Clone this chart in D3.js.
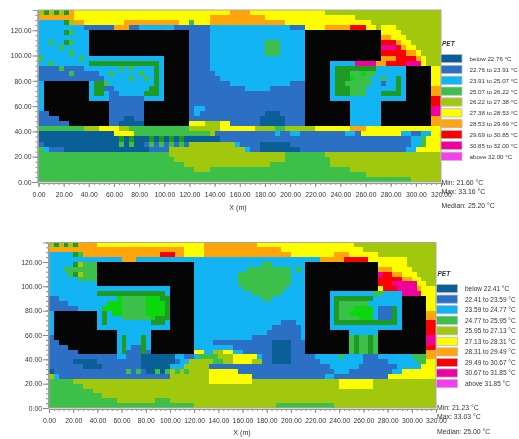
<!DOCTYPE html>
<html><head><meta charset="utf-8">
<style>
html,body{margin:0;padding:0;background:#fff;overflow:hidden}
svg{display:block;filter:blur(0.7px)}
text{font-family:"Liberation Sans",sans-serif;fill:#333}
</style>
<script src="https://cdn.jsdelivr.net/npm/d3@7/dist/d3.min.js"></script>
</head><body>
<svg id="c" width="519" height="439"></svg>
<script>
// Class codes: a-j = legend classes, k = building, l/m = vegetation
const classCodes = ["a","b","c","d","e","f","g","h","i","j","k","l","m"];
const classColors = ["#0a5f98","#2c70c6","#12b4f4","#3cc04a","#a2c80e","#fdfd00","#ffa50a","#fb0000","#f0009c","#f83cf0","#050505","#1f9a22","#0cd60c"];
const xTicks = [0,20,40,60,80,100,120,140,160,180,200,220,240,260,280,300,320];
const yTicks = [0,20,40,60,80,100,120];
const cellMetres = 4;
const gridCols = 80;
const gridExtentY = 136;

// Each row lists class + last column of its run, north to south
const topRows = [
"e6 g7 f38 g42 f57 e80",
"g7 f34 g45 f63 e80",
"c5 l6 e7 g9 f17 g28 f30 d31 f34 g49 f66 e80",
"c9 b15 g18 b20 c27 b34 c50 b53 f57 g62 h65 f67 e68 f71 e80",
"c10 k30 b34 c53 k68 f72 e80",
"c10 k30 b34 c53 k68 g70 f73 e80",
"c10 k30 b34 c45 d48 c53 k68 h71 g72 f74 e80",
"c10 k30 b34 c45 d48 c53 k68 i71 h72 g73 f75 e80",
"c10 k30 b34 c45 d48 c53 k68 h73 g75 f76 e80",
"c25 k30 b34 c53 k68 g71 h75 g76 f77 e80",
"c10 l24 c25 k30 b34 c53 k58 c63 i67 g69 h73 i76 f77 e80",
"b9 c23 l24 c25 k30 b34 c53 k58 c59 l67 c73 k78 f80",
"b12 c23 l24 c25 k30 b35 c53 k58 c59 l62 d67 c73 k78 f80",
"b13 c23 l24 c25 k30 b36 c53 k58 c59 l62 d66 c71 l72 c73 k78 f80",
"c1 k10 c11 l13 b14 c23 l24 c25 k30 b38 c50 b53 k58 c59 l62 d66 c71 l72 c73 k78 f80",
"c1 k10 c11 l13 b15 c22 l24 c25 k30 b41 c46 b53 k58 c59 l62 d65 c71 l72 c73 k78 g80",
"c1 k10 c11 l13 c14 b16 c21 l24 c25 k30 b53 k58 c59 l62 d65 c68 l72 c73 k78 g80",
"c1 k10 c14 b21 c25 k30 b53 k58 c73 k78 h80",
"c1 k14 b21 k30 b53 k62 c68 k78 h80",
"c1 k14 b21 k30 b31 c33 b53 k62 c68 k78 i80",
"b2 k14 b21 k30 b31 c32 b45 a48 b53 k62 c68 k78 i80",
"b4 k14 b17 a19 b21 k30 b44 a49 b53 k62 c68 k78 g80",
"b6 k14 b16 a21 k30 f33 e36 f38 b44 a49 b53 k62 c68 k78 g80",
"d9 e12 f16 e18 d30 e36 f43 e47 d49 e55 f62 g65 f80",
"a15 f19 d34 e35 b47 c48 b50 c52 b61 c63 b64 f72 c74 b76 c78 f80",
"a36 b74 c76 d77 f80",
"b1 a21 b30 e39 c40 b44 a50 b74 c76 d77 f80",
"d1 c2 b5 a22 b26 e41 c42 b44 a52 b73 c75 f80",
"d26 e49 d57 e80",
"d27 e49 d58 e80",
"d29 e46 d58 e80",
"d31 e34 d62 e80",
"d65 e80",
"d74 e80"
];
const bottomRows = [
"e6 g10 f32 g43 f63 e80",
"g28 f32 g48 f65 e80",
"c5 l6 d7 g23 h26 g28 f32 g50 f59 g62 f68 e80",
"c15 g18 c56 g61 h66 f74 e80",
"c5 d10 k30 c44 d46 c53 k68 f74 e80",
"c3 d10 k30 c41 d50 c51 d52 c53 k68 g71 f75 e80",
"c4 d10 k30 c39 d50 c53 k68 i69 h71 g73 f76 e80",
"c6 d10 k30 c39 d50 c53 k68 h73 g75 f77 e80",
"c10 k30 c39 d50 c53 k68 h71 i76 f78 e80",
"c25 k30 c40 d49 c53 k68 f69 h72 i76 g77 f80",
"c10 l24 c25 k30 c42 d48 c53 k58 c67 d69 c73 i77 f80",
"b2 c14 m15 d20 m23 l25 k30 c44 d46 c53 k58 c59 l67 c73 k78 f80",
"b4 c12 m15 d20 m24 l25 k30 c53 k58 c59 l60 d66 c73 k78 f80",
"b6 c11 m15 d20 m24 l25 k30 c53 k58 c59 l60 d63 m67 c68 b71 l72 c73 k78 f80",
"c1 k10 c11 l12 c13 m15 d20 m24 l25 k30 c53 k58 c59 l60 d62 m67 c68 b71 l72 c73 k78 g80",
"c1 k10 c11 l12 c15 d21 m22 l25 k30 c53 k58 c59 l60 d64 m67 c68 b71 l72 c73 k78 g80",
"c1 k10 c11 l12 c21 l24 c25 k30 c48 b51 c53 k58 c59 l72 c73 k78 h80",
"c1 k10 c25 k30 c46 b52 c53 k58 c73 k78 h80",
"c1 k14 c21 k30 c45 b52 c53 k62 c68 k78 h80",
"b1 k14 c15 l16 c19 l20 c21 k30 c42 b52 c53 k62 d63 l64 d66 l67 d68 k78 i80",
"b2 k14 c15 l16 c19 l20 c21 k30 c34 b46 a50 b53 k62 d63 l64 d66 l67 d68 k78 i80",
"b4 k14 c15 l16 c17 b19 l20 c21 k30 c38 b46 a50 b53 k62 d63 l64 d66 l67 d68 k78 h80",
"b6 k14 c15 l16 b19 l20 b21 k30 f32 c34 e36 f38 c40 b46 a50 b53 k62 d63 l64 d66 l67 d68 k78 g80",
"b14 c16 b19 a26 c28 b30 c31 d35 e38 f43 c44 b46 a50 b55 c60 d61 c65 b68 c75 d78 g80",
"b5 a10 b19 a26 b27 c29 e34 d36 e38 f42 e44 b46 a50 b56 c65 b70 c76 d78 f80",
"b7 a11 b19 a25 c28 e33 b58 c64 b72 c77 f80",
"a1 b20 a24 b25 e33 f39 b59 c62 b71 c73 f80",
"e1 c2 b25 e33 f42 b57 c59 b70 f80",
"d5 e33 f42 e60 f67 e80",
"d7 e60 f67 e80",
"d9 e80",
"d11 e80",
"d14 e22 d25 e80",
"d30 e47 d59 e80"
];
// Small tree cells: [column, row, class]
const topTrees = [[1,0,"l"],[3,0,"l"],[5,0,"l"],[5,2,"l"],[5,4,"l"],[6,4,"d"],[5,6,"l"],[6,6,"d"],[2,6,"d"],[4,7,"d"],[6,8,"d"],[0,9,"d"],[8,9,"d"],[2,10,"d"],[4,11,"d"],[6,12,"d"],[14,12,"d"],[16,11,"d"],[18,11,"d"],[20,12,"d"],[21,13,"d"],[18,13,"d"],[13,14,"d"],[16,25,"l"],[18,25,"l"],[22,25,"l"],[24,25,"l"],[26,25,"l"],[28,25,"l"],[16,26,"d"],[18,26,"d"],[22,26,"d"],[24,26,"d"],[26,26,"d"],[28,26,"d"],[62,13,"m"],[64,12,"m"],[66,12,"d"],[68,13,"d"],[61,14,"d"],[68,14,"b"]];
const bottomTrees = [[1,0,"l"],[3,0,"l"],[5,0,"l"],[5,4,"l"],[6,4,"e"],[5,6,"l"],[6,6,"e"],[16,26,"d"],[18,26,"d"],[22,26,"d"],[24,26,"d"],[26,26,"d"],[28,26,"d"]];

const topLegend = ["below 22.76 °C","22.76 to 23.91 °C","23.91 to 25.07 °C","25.07 to 26.22 °C","26.22 to 27.38 °C","27.38 to 28.53 °C","28.53 to 29.69 °C","29.69 to 30.85 °C","30.85 to 32.00 °C","above 32.00 °C"];
const bottomLegend = ["below 22.41 °C","22.41 to 23.59 °C","23.59 to 24.77 °C","24.77 to 25.95 °C","25.95 to 27.13 °C","27.13 to 28.31 °C","28.31 to 29.49 °C","29.49 to 30.67 °C","30.67 to 31.85 °C","above 31.85 °C"];
const topStats = ["Min: 21.60 °C","Max: 33.16 °C","Median: 25.20 °C"];
const bottomStats = ["Min: 21.23 °C","Max: 33.03 °C","Median: 25.00 °C"];

const color = d3.scaleOrdinal(classCodes, classColors);
const svg = d3.select("#c");

function expand(rows, trees){
  const cells = [];
  rows.forEach((row, r) => {
    let start = 0;
    row.split(" ").forEach(run => {
      const end = +run.slice(1);
      for (let c = start; c < end; c++) cells.push({c, r, v: run[0]});
      start = end;
    });
  });
  trees.forEach(([c, r, v]) => {
    const hit = cells.find(d => d.c === c && d.r === r);
    if (hit) hit.v = v;
  });
  return cells;
}

function panel(o){
  const x = d3.scaleLinear([0, gridCols * cellMetres], o.xRange);
  const y = d3.scaleLinear([0, gridExtentY], o.yRange);
  const g = svg.append("g");
  const cells = expand(o.rows, o.trees);
  g.append("g").attr("shape-rendering","crispEdges").selectAll("rect").data(cells).join("rect")
    .attr("x", d => x(d.c * cellMetres))
    .attr("y", d => y(gridExtentY - d.r * cellMetres))
    .attr("width", x(cellMetres) - x(0) + 0.4)
    .attr("height", y(0) - y(cellMetres) + 0.4)
    .attr("fill", d => color(d.v));
  g.append("rect").attr("x",o.xRange[0]).attr("y",o.yRange[1])
    .attr("width",o.xRange[1]-o.xRange[0]).attr("height",o.yRange[0]-o.yRange[1])
    .attr("fill","none").attr("stroke","#a9a9a0").attr("stroke-width",1);

  const minorX = d3.range(0, 321, 4), minorY = d3.range(0, 137, 4);
  const ax = g.append("g").attr("transform",`translate(0,${o.yRange[0]+1})`);
  ax.call(d3.axisBottom(x).tickValues(minorX).tickSize(2).tickFormat(""));
  const ax2 = g.append("g").attr("transform",`translate(0,${o.yRange[0]+1})`);
  ax2.call(d3.axisBottom(x).tickValues(xTicks).tickSize(4).tickPadding(5).tickFormat(d3.format(".2f")));
  const ay = g.append("g").attr("transform",`translate(${o.xRange[0]-1},0)`);
  ay.call(d3.axisLeft(y).tickValues(minorY).tickSize(2).tickFormat(""));
  const ay2 = g.append("g").attr("transform",`translate(${o.xRange[0]-1},0)`);
  ay2.call(d3.axisLeft(y).tickValues(yTicks).tickSize(5).tickPadding(1).tickFormat(d3.format(".2f")));
  g.selectAll(".domain").attr("stroke","#999");
  g.selectAll(".tick line").attr("stroke","#888");
  g.selectAll(".tick text").attr("font-size",6.8).attr("fill","#333");

  g.append("text").attr("x",o.xLabel[0]).attr("y",o.xLabel[1]).attr("font-size",7.2).attr("text-anchor","middle").text("X (m)");

  const lg = o.legend;
  g.append("text").attr("x",lg.x+1).attr("y",lg.petY).attr("font-size",6.5)
    .attr("font-weight","bold").attr("font-style","italic").text("PET");
  const rowsG = g.selectAll(".lr").data(o.labels).join("g").attr("class","lr")
    .attr("transform",(d,i)=>`translate(${lg.x},${lg.y + i*lg.step})`);
  rowsG.append("rect").attr("width",lg.w).attr("height",8.2)
    .attr("fill",(d,i)=>classColors[i]).attr("stroke","#b8b8c8").attr("stroke-width",0.8);
  rowsG.append("text").attr("x",lg.w+lg.pad).attr("y",6.5).attr("font-size",lg.font).attr("fill","#444").text(d=>d);
  g.selectAll(".st").data(o.stats).join("text").attr("class","st")
    .attr("x",lg.x+0.5).attr("y",(d,i)=>lg.statY[i]).attr("font-size",6.9).attr("fill","#444").text(d=>d);
}

panel({xRange:[38.5,441],yRange:[182,10],rows:topRows,trees:topTrees,labels:topLegend,stats:topStats,
  xLabel:[238,210],legend:{x:441,y:54.5,step:10.85,w:21,pad:7.5,font:6.2,petY:46,statY:[185,193.5,208]}});
panel({xRange:[49,436],yRange:[408,242.5],rows:bottomRows,trees:bottomTrees,labels:bottomLegend,stats:bottomStats,
  xLabel:[242,435],legend:{x:436.5,y:284.5,step:10.55,w:21,pad:7.5,font:6.5,petY:276,statY:[409.5,419,434]}});
</script>
</body></html>
